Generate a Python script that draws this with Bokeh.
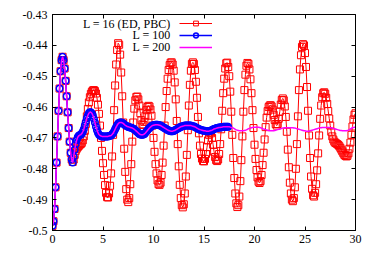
from bokeh.plotting import figure
from bokeh.models import (Range1d, LinearAxis, Legend, LegendItem, Label,
                          FixedTicker, ColumnDataSource)
from bokeh.embed import file_html
from bokeh.resources import INLINE

# ---------------- data ----------------
DT = 0.1  # sampling step of all three series (time t)

l16_y = [
    -0.4985, -0.4970, -0.4930, -0.4860, -0.4780, -0.4695, -0.4612, -0.4540, -0.4484, -0.4448,
    -0.4437, -0.4448, -0.4475, -0.4515, -0.4565, -0.4617, -0.4668, -0.4712, -0.4748, -0.4770,
    -0.4778, -0.4770, -0.4755, -0.4742, -0.4735, -0.4730, -0.4726, -0.4722, -0.4720, -0.4716,
    -0.4708, -0.4695, -0.4677, -0.4655, -0.4630, -0.4606, -0.4585, -0.4568, -0.4557, -0.4550,
    -0.4546, -0.4545, -0.4548, -0.4556, -0.4570, -0.4592, -0.4622, -0.4660, -0.4700, -0.4742,
    -0.4782, -0.4820, -0.4853, -0.4878, -0.4892, -0.4893, -0.4880, -0.4855, -0.4815, -0.4760,
    -0.4690, -0.4610, -0.4530, -0.4462, -0.4415, -0.4393, -0.4398, -0.4430, -0.4488, -0.4565,
    -0.4650, -0.4735, -0.4810, -0.4866, -0.4900, -0.4908, -0.4895, -0.4850, -0.4785, -0.4712,
    -0.4650, -0.4605, -0.4578, -0.4567, -0.4566, -0.4575, -0.4595, -0.4620, -0.4643, -0.4656,
    -0.4658, -0.4648, -0.4628, -0.4610, -0.4600, -0.4596, -0.4598, -0.4608, -0.4628, -0.4660,
    -0.4700, -0.4745, -0.4785, -0.4815, -0.4838, -0.4850, -0.4852, -0.4845, -0.4820, -0.4780,
    -0.4725, -0.4660, -0.4600, -0.4548, -0.4508, -0.4480, -0.4464, -0.4456, -0.4455, -0.4462,
    -0.4482, -0.4520, -0.4575, -0.4645, -0.4720, -0.4792, -0.4852, -0.4895, -0.4918, -0.4925,
    -0.4915, -0.4880, -0.4825, -0.4755, -0.4675, -0.4595, -0.4528, -0.4482, -0.4460, -0.4455,
    -0.4460, -0.4480, -0.4518, -0.4570, -0.4632, -0.4685, -0.4725, -0.4752, -0.4767, -0.4775,
    -0.4776, -0.4768, -0.4752, -0.4730, -0.4708, -0.4690, -0.4682, -0.4685, -0.4700, -0.4722,
    -0.4745, -0.4762, -0.4772, -0.4775, -0.4770, -0.4752, -0.4720, -0.4672, -0.4612, -0.4555,
    -0.4508, -0.4475, -0.4458, -0.4456, -0.4470, -0.4500, -0.4550, -0.4615, -0.4690, -0.4765,
    -0.4830, -0.4880, -0.4912, -0.4924, -0.4918, -0.4890, -0.4840, -0.4772, -0.4695, -0.4615,
    -0.4545, -0.4495, -0.4466, -0.4457, -0.4460, -0.4478, -0.4510, -0.4555, -0.4610, -0.4668,
    -0.4722, -0.4768, -0.4804, -0.4828, -0.4842, -0.4846, -0.4840, -0.4820, -0.4788, -0.4748,
    -0.4705, -0.4665, -0.4634, -0.4613, -0.4600, -0.4595, -0.4594, -0.4598, -0.4608, -0.4625,
    -0.4642, -0.4655, -0.4660, -0.4655, -0.4638, -0.4615, -0.4592, -0.4577, -0.4572, -0.4578,
    -0.4598, -0.4632, -0.4680, -0.4738, -0.4795, -0.4845, -0.4880, -0.4900, -0.4905, -0.4895,
    -0.4860, -0.4800, -0.4720, -0.4630, -0.4545, -0.4478, -0.4432, -0.4405, -0.4396, -0.4400,
    -0.4425, -0.4470, -0.4535, -0.4612, -0.4692, -0.4765, -0.4825, -0.4865, -0.4886, -0.4890,
    -0.4878, -0.4850, -0.4805, -0.4750, -0.4692, -0.4638, -0.4595, -0.4568, -0.4555, -0.4552,
    -0.4557, -0.4570, -0.4590, -0.4613, -0.4637, -0.4660, -0.4680, -0.4695, -0.4705, -0.4712,
    -0.4716, -0.4718, -0.4720, -0.4723, -0.4727, -0.4732, -0.4738, -0.4744, -0.4750, -0.4755,
    -0.4758, -0.4760, -0.4758, -0.4750, -0.4735, -0.4715, -0.4690, -0.4663, -0.4640, -0.4625,
    -0.4620,
]

l100_y = [
    -0.4985, -0.4970, -0.4930, -0.4860, -0.4780, -0.4695, -0.4612, -0.4540, -0.4484, -0.4448,
    -0.4437, -0.4448, -0.4475, -0.4515, -0.4565, -0.4617, -0.4668, -0.4712, -0.4748, -0.4770,
    -0.4780, -0.4760, -0.4738, -0.4720, -0.4707, -0.4698, -0.4693, -0.4691, -0.4689, -0.4686,
    -0.4680, -0.4672, -0.4660, -0.4648, -0.4636, -0.4627, -0.4620, -0.4617, -0.4617, -0.4620,
    -0.4627, -0.4638, -0.4650, -0.4663, -0.4674, -0.4683, -0.4689, -0.4692, -0.4694, -0.4695,
    -0.4695, -0.4695, -0.4695, -0.4695, -0.4695, -0.4695, -0.4694, -0.4693, -0.4692, -0.4689,
    -0.4685, -0.4679, -0.4672, -0.4665, -0.4659, -0.4654, -0.4651, -0.4650, -0.4650, -0.4651,
    -0.4653, -0.4656, -0.4659, -0.4661, -0.4663, -0.4664, -0.4665, -0.4666, -0.4667, -0.4668,
    -0.4670, -0.4672, -0.4675, -0.4678, -0.4681, -0.4684, -0.4687, -0.4689, -0.4690, -0.4690,
    -0.4689, -0.4687, -0.4684, -0.4680, -0.4676, -0.4672, -0.4668, -0.4665, -0.4662, -0.4660,
    -0.4659, -0.4658, -0.4657, -0.4657, -0.4657, -0.4658, -0.4659, -0.4660, -0.4662, -0.4664,
    -0.4666, -0.4668, -0.4670, -0.4672, -0.4674, -0.4676, -0.4677, -0.4678, -0.4678, -0.4678,
    -0.4677, -0.4676, -0.4674, -0.4672, -0.4670, -0.4668, -0.4666, -0.4664, -0.4663, -0.4662,
    -0.4661, -0.4660, -0.4660, -0.4660, -0.4660, -0.4660, -0.4660, -0.4660, -0.4661, -0.4662,
    -0.4663, -0.4664, -0.4666, -0.4668, -0.4670, -0.4672, -0.4673, -0.4674, -0.4675, -0.4676,
    -0.4677, -0.4677, -0.4678, -0.4678, -0.4678, -0.4678, -0.4677, -0.4676, -0.4675, -0.4673,
    -0.4671, -0.4670, -0.4669, -0.4668, -0.4667, -0.4666, -0.4666, -0.4665, -0.4665, -0.4664,
    -0.4664, -0.4664, -0.4664, -0.4664, -0.4664,
]

# L = 200 coincides with L = 100 up to t = 17.4, then continues alone
l200_tail_y = [
    -0.4664, -0.4665, -0.4666, -0.4667, -0.4668,
    -0.4670, -0.4672, -0.4674, -0.4675, -0.4676, -0.4677, -0.4677, -0.4677, -0.4677, -0.4677,
    -0.4676, -0.4675, -0.4674, -0.4672, -0.4670, -0.4669, -0.4668, -0.4667, -0.4666, -0.4665,
    -0.4665, -0.4665, -0.4665, -0.4665, -0.4665, -0.4666, -0.4667, -0.4668, -0.4670, -0.4671,
    -0.4672, -0.4673, -0.4674, -0.4675, -0.4676, -0.4677, -0.4677, -0.4677, -0.4677, -0.4677,
    -0.4676, -0.4675, -0.4674, -0.4673, -0.4672, -0.4671, -0.4670, -0.4669, -0.4668, -0.4668,
    -0.4667, -0.4667, -0.4667, -0.4667, -0.4667, -0.4667, -0.4667, -0.4667, -0.4667, -0.4668,
    -0.4668, -0.4669, -0.4670, -0.4671, -0.4672, -0.4673, -0.4674, -0.4675, -0.4676, -0.4677,
    -0.4677, -0.4678, -0.4678, -0.4678, -0.4678, -0.4677, -0.4676, -0.4675, -0.4674, -0.4673,
    -0.4672, -0.4671, -0.4670, -0.4669, -0.4668, -0.4667, -0.4667, -0.4666, -0.4666, -0.4666,
    -0.4666, -0.4666, -0.4666, -0.4666, -0.4666, -0.4667, -0.4667, -0.4668, -0.4669, -0.4670,
    -0.4671, -0.4672, -0.4673, -0.4674, -0.4675, -0.4676, -0.4676, -0.4677, -0.4677, -0.4677,
    -0.4677, -0.4677, -0.4676, -0.4675, -0.4673, -0.4671, -0.4669, -0.4667, -0.4666, -0.4665,
    -0.4665,
]
l200_y = l100_y + l200_tail_y

series_labels = ["L = 16 (ED, PBC)", "L = 100", "L = 200"]
x_ticks = [0, 5, 10, 15, 20, 25, 30]
y_ticks = [-0.5, -0.49, -0.48, -0.47, -0.46, -0.45, -0.44, -0.43]
y_tick_labels = ["-0.5", "-0.49", "-0.48", "-0.47", "-0.46", "-0.45", "-0.44", "-0.43"]
x_title = "time t"


def times(values):
    return [round(i * DT, 1) for i in range(len(values))]


src16 = ColumnDataSource(dict(t=times(l16_y), y=l16_y))
src100 = ColumnDataSource(dict(t=times(l100_y), y=l100_y))
src200 = ColumnDataSource(dict(t=times(l200_y), y=l200_y))

# ---------------- figure ----------------
FONT = "Liberation Serif"
FS = "12px"

p = figure(width=382, height=268, output_backend="svg", toolbar_location=None,
           x_range=Range1d(0, 30), y_range=Range1d(-0.5, -0.43),
           min_border_left=52, min_border_right=27, min_border_top=14,
           min_border_bottom=38, x_axis_location=None, y_axis_location=None)
p.background_fill_color = "white"
p.border_fill_color = "white"
p.outline_line_color = "black"
p.outline_line_width = 1
p.xgrid.visible = False
p.ygrid.visible = False


def style_axis(ax, ticks, show_labels):
    ax.ticker = FixedTicker(ticks=ticks)
    ax.axis_line_color = "black"
    ax.major_tick_in = 4
    ax.major_tick_out = 0
    ax.major_tick_line_color = "black"
    ax.minor_tick_line_color = None
    ax.major_label_text_font = FONT
    ax.major_label_text_font_size = FS
    if show_labels:
        ax.major_label_text_color = "black"
        ax.major_label_standoff = 5
    else:
        ax.major_label_text_color = None
        ax.major_label_standoff = 0


xb = LinearAxis()
style_axis(xb, x_ticks, True)
xb.major_label_standoff = 4
p.add_layout(xb, "below")

yl = LinearAxis()
style_axis(yl, y_ticks, True)
yl.major_label_overrides = {v: s for v, s in zip(y_ticks, y_tick_labels)}
p.add_layout(yl, "left")

xa = LinearAxis()
style_axis(xa, x_ticks[1:-1], False)
p.add_layout(xa, "above")

yr = LinearAxis()
style_axis(yr, y_ticks[1:-1], False)
p.add_layout(yr, "right")

# ---------------- series ----------------
RED, BLUE, MAG = "#ff0000", "#0000ff", "#ff00ff"
r16_line = p.line("t", "y", source=src16, line_color=RED, line_width=1)
r16_pts = p.scatter("t", "y", source=src16, marker="square", size=7,
                    line_color=RED, line_width=1, fill_color=None)
r100_line = p.line("t", "y", source=src100, line_color=BLUE, line_width=1.5)
r100_pts = p.scatter("t", "y", source=src100, marker="circle", size=6.5,
                     line_color=BLUE, line_width=1.5, fill_color=None)
r200_line = p.line("t", "y", source=src200, line_color=MAG, line_width=1.5)

# ---------------- legend (gnuplot style: text left, sample right) ----------------
legend = Legend(items=[
    LegendItem(label=" ", renderers=[r16_line, r16_pts]),
    LegendItem(label=" ", renderers=[r100_line, r100_pts]),
    LegendItem(label=" ", renderers=[r200_line]),
], location=(127, 177), orientation="vertical",
    glyph_width=33, glyph_height=12, spacing=0, padding=0, margin=0,
    label_standoff=0, label_width=0, label_height=12,
    label_text_font_size="12px", label_text_color=None, border_line_color=None,
    background_fill_alpha=0)
p.add_layout(legend)

legend_text_x = 11.7
legend_text_y = [-0.4330, -0.4368, -0.4406]
for lab, ly in zip(series_labels, legend_text_y):
    p.add_layout(Label(x=legend_text_x, y=ly, text=lab, text_align="right",
                       text_baseline="middle", text_font=FONT,
                       text_font_size=FS, text_color="black"))

p.add_layout(Label(x=15, y=-0.5, y_offset=-30, text=x_title, text_align="center",
                   text_baseline="alphabetic", text_font=FONT,
                   text_font_size=FS, text_color="black"))

open("out.html", "w").write(file_html(p, INLINE))
